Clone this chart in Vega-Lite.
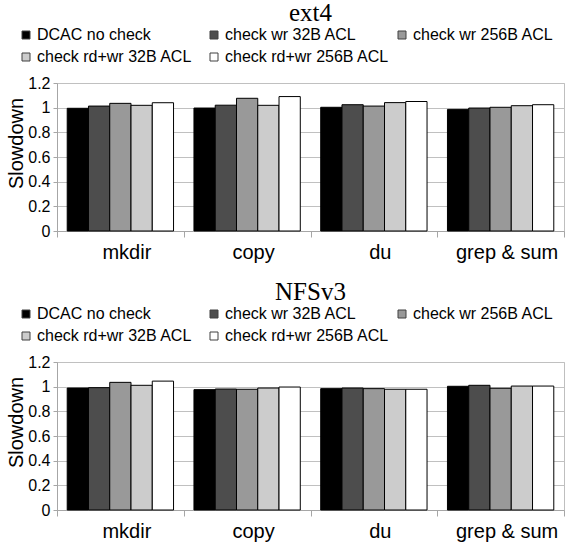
{
  "$schema": "https://vega.github.io/schema/vega-lite/v6.json",
  "padding": {"left": 5, "top": 0, "right": 9, "bottom": 0},
  "background": "white",
  "spacing": 16,
  "config": {
    "view": {"stroke": "#bfbfbf", "strokeWidth": 1},
    "axis": {"labelFont": "Liberation Sans", "labelColor": "black", "titleFont": "Liberation Sans", "titleColor": "black", "domainColor": "#a6a6a6", "tickColor": "#a6a6a6", "gridColor": "#c0c0c0"},
    "title": {"font": "Liberation Serif", "fontSize": 25, "fontWeight": "normal", "color": "black", "anchor": "middle"}
  },
  "datasets": {
    "d": [
      {"fs": "ext4", "op": "mkdir", "cfg": "DCAC no check", "v": 0.995},
      {"fs": "ext4", "op": "mkdir", "cfg": "check wr 32B ACL", "v": 1.013},
      {"fs": "ext4", "op": "mkdir", "cfg": "check wr 256B ACL", "v": 1.035},
      {"fs": "ext4", "op": "mkdir", "cfg": "check rd+wr 32B ACL", "v": 1.019},
      {"fs": "ext4", "op": "mkdir", "cfg": "check rd+wr 256B ACL", "v": 1.04},
      {"fs": "ext4", "op": "copy", "cfg": "DCAC no check", "v": 0.997},
      {"fs": "ext4", "op": "copy", "cfg": "check wr 32B ACL", "v": 1.02},
      {"fs": "ext4", "op": "copy", "cfg": "check wr 256B ACL", "v": 1.076},
      {"fs": "ext4", "op": "copy", "cfg": "check rd+wr 32B ACL", "v": 1.019},
      {"fs": "ext4", "op": "copy", "cfg": "check rd+wr 256B ACL", "v": 1.09},
      {"fs": "ext4", "op": "du", "cfg": "DCAC no check", "v": 1.003},
      {"fs": "ext4", "op": "du", "cfg": "check wr 32B ACL", "v": 1.024},
      {"fs": "ext4", "op": "du", "cfg": "check wr 256B ACL", "v": 1.013},
      {"fs": "ext4", "op": "du", "cfg": "check rd+wr 32B ACL", "v": 1.041},
      {"fs": "ext4", "op": "du", "cfg": "check rd+wr 256B ACL", "v": 1.05},
      {"fs": "ext4", "op": "grep & sum", "cfg": "DCAC no check", "v": 0.986},
      {"fs": "ext4", "op": "grep & sum", "cfg": "check wr 32B ACL", "v": 0.997},
      {"fs": "ext4", "op": "grep & sum", "cfg": "check wr 256B ACL", "v": 1.003},
      {"fs": "ext4", "op": "grep & sum", "cfg": "check rd+wr 32B ACL", "v": 1.016},
      {"fs": "ext4", "op": "grep & sum", "cfg": "check rd+wr 256B ACL", "v": 1.024},
      {"fs": "NFSv3", "op": "mkdir", "cfg": "DCAC no check", "v": 0.989},
      {"fs": "NFSv3", "op": "mkdir", "cfg": "check wr 32B ACL", "v": 0.992},
      {"fs": "NFSv3", "op": "mkdir", "cfg": "check wr 256B ACL", "v": 1.035},
      {"fs": "NFSv3", "op": "mkdir", "cfg": "check rd+wr 32B ACL", "v": 1.011},
      {"fs": "NFSv3", "op": "mkdir", "cfg": "check rd+wr 256B ACL", "v": 1.045},
      {"fs": "NFSv3", "op": "copy", "cfg": "DCAC no check", "v": 0.976},
      {"fs": "NFSv3", "op": "copy", "cfg": "check wr 32B ACL", "v": 0.981},
      {"fs": "NFSv3", "op": "copy", "cfg": "check wr 256B ACL", "v": 0.979},
      {"fs": "NFSv3", "op": "copy", "cfg": "check rd+wr 32B ACL", "v": 0.989},
      {"fs": "NFSv3", "op": "copy", "cfg": "check rd+wr 256B ACL", "v": 0.997},
      {"fs": "NFSv3", "op": "du", "cfg": "DCAC no check", "v": 0.984},
      {"fs": "NFSv3", "op": "du", "cfg": "check wr 32B ACL", "v": 0.989},
      {"fs": "NFSv3", "op": "du", "cfg": "check wr 256B ACL", "v": 0.984},
      {"fs": "NFSv3", "op": "du", "cfg": "check rd+wr 32B ACL", "v": 0.979},
      {"fs": "NFSv3", "op": "du", "cfg": "check rd+wr 256B ACL", "v": 0.979},
      {"fs": "NFSv3", "op": "grep & sum", "cfg": "DCAC no check", "v": 1.003},
      {"fs": "NFSv3", "op": "grep & sum", "cfg": "check wr 32B ACL", "v": 1.011},
      {"fs": "NFSv3", "op": "grep & sum", "cfg": "check wr 256B ACL", "v": 0.987},
      {"fs": "NFSv3", "op": "grep & sum", "cfg": "check rd+wr 32B ACL", "v": 1.005},
      {"fs": "NFSv3", "op": "grep & sum", "cfg": "check rd+wr 256B ACL", "v": 1.005}
    ]
  },
  "resolve": {"legend": {"fill": "independent"}},
  "vconcat": [
    {
      "title": {"text": "ext4", "offset": 1},
      "data": {"name": "d"},
      "transform": [{"filter": "datum.fs == 'ext4'"}],
      "width": 507,
      "height": 148,
      "mark": {"type": "bar", "stroke": "black", "strokeWidth": 1},
      "encoding": {
        "x": {"field": "op", "type": "nominal", "sort": ["mkdir", "copy", "du", "grep & sum"], "scale": {"paddingInner": 0, "paddingOuter": 0},
          "axis": {"title": null, "labelAngle": 0, "grid": false, "tickBand": "extent", "tickSize": 6, "labelPadding": 5, "labelFontSize": 20, "labelOffset": 6}},
        "xOffset": {"field": "cfg", "type": "nominal", "scale": {"domain": ["DCAC no check", "check wr 32B ACL", "check wr 256B ACL", "check rd+wr 32B ACL", "check rd+wr 256B ACL"], "paddingInner": 0, "paddingOuter": 0.48}},
        "y": {"field": "v", "type": "quantitative", "scale": {"domain": [0, 1.2]},
          "axis": {"title": "Slowdown", "values": [0, 0.2, 0.4, 0.6, 0.8, 1, 1.2], "format": ".1~f", "tickSize": 4, "labelPadding": 3, "labelFontSize": 16, "titleFontSize": 20, "titleFontWeight": "normal", "titleX": -41, "titleY": 60, "titleBaseline": "middle", "titleAngle": -90}},
        "fill": {"field": "cfg", "type": "nominal",
          "scale": {"domain": ["DCAC no check", "check wr 32B ACL", "check wr 256B ACL", "check rd+wr 32B ACL", "check rd+wr 256B ACL"], "range": ["#000000", "#4d4d4d", "#999999", "#cccccc", "#ffffff"]},
          "legend": {"title": null, "orient": "none", "legendX": -39, "legendY": -56, "columns": 3, "direction": "horizontal", "gridAlign": "all", "symbolType": "square", "symbolSize": 64, "symbolStrokeColor": "#404040", "symbolStrokeWidth": 1, "labelFont": "Liberation Sans", "labelFontSize": 16, "labelColor": "black", "columnPadding": 4, "rowPadding": 6, "labelOffset": 3, "labelLimit": 300}}
      }
    },
    {
      "title": {"text": "NFSv3", "offset": 1},
      "data": {"name": "d"},
      "transform": [{"filter": "datum.fs == 'NFSv3'"}],
      "width": 507,
      "height": 148,
      "mark": {"type": "bar", "stroke": "black", "strokeWidth": 1},
      "encoding": {
        "x": {"field": "op", "type": "nominal", "sort": ["mkdir", "copy", "du", "grep & sum"], "scale": {"paddingInner": 0, "paddingOuter": 0},
          "axis": {"title": null, "labelAngle": 0, "grid": false, "tickBand": "extent", "tickSize": 6, "labelPadding": 5, "labelFontSize": 20, "labelOffset": 6}},
        "xOffset": {"field": "cfg", "type": "nominal", "scale": {"domain": ["DCAC no check", "check wr 32B ACL", "check wr 256B ACL", "check rd+wr 32B ACL", "check rd+wr 256B ACL"], "paddingInner": 0, "paddingOuter": 0.48}},
        "y": {"field": "v", "type": "quantitative", "scale": {"domain": [0, 1.2]},
          "axis": {"title": "Slowdown", "values": [0, 0.2, 0.4, 0.6, 0.8, 1, 1.2], "format": ".1~f", "tickSize": 4, "labelPadding": 3, "labelFontSize": 16, "titleFontSize": 20, "titleFontWeight": "normal", "titleX": -41, "titleY": 60, "titleBaseline": "middle", "titleAngle": -90}},
        "fill": {"field": "cfg", "type": "nominal",
          "scale": {"domain": ["DCAC no check", "check wr 32B ACL", "check wr 256B ACL", "check rd+wr 32B ACL", "check rd+wr 256B ACL"], "range": ["#000000", "#4d4d4d", "#999999", "#cccccc", "#ffffff"]},
          "legend": {"title": null, "orient": "none", "legendX": -39, "legendY": -56, "columns": 3, "direction": "horizontal", "gridAlign": "all", "symbolType": "square", "symbolSize": 64, "symbolStrokeColor": "#404040", "symbolStrokeWidth": 1, "labelFont": "Liberation Sans", "labelFontSize": 16, "labelColor": "black", "columnPadding": 4, "rowPadding": 6, "labelOffset": 3, "labelLimit": 300}}
      }
    }
  ]
}
